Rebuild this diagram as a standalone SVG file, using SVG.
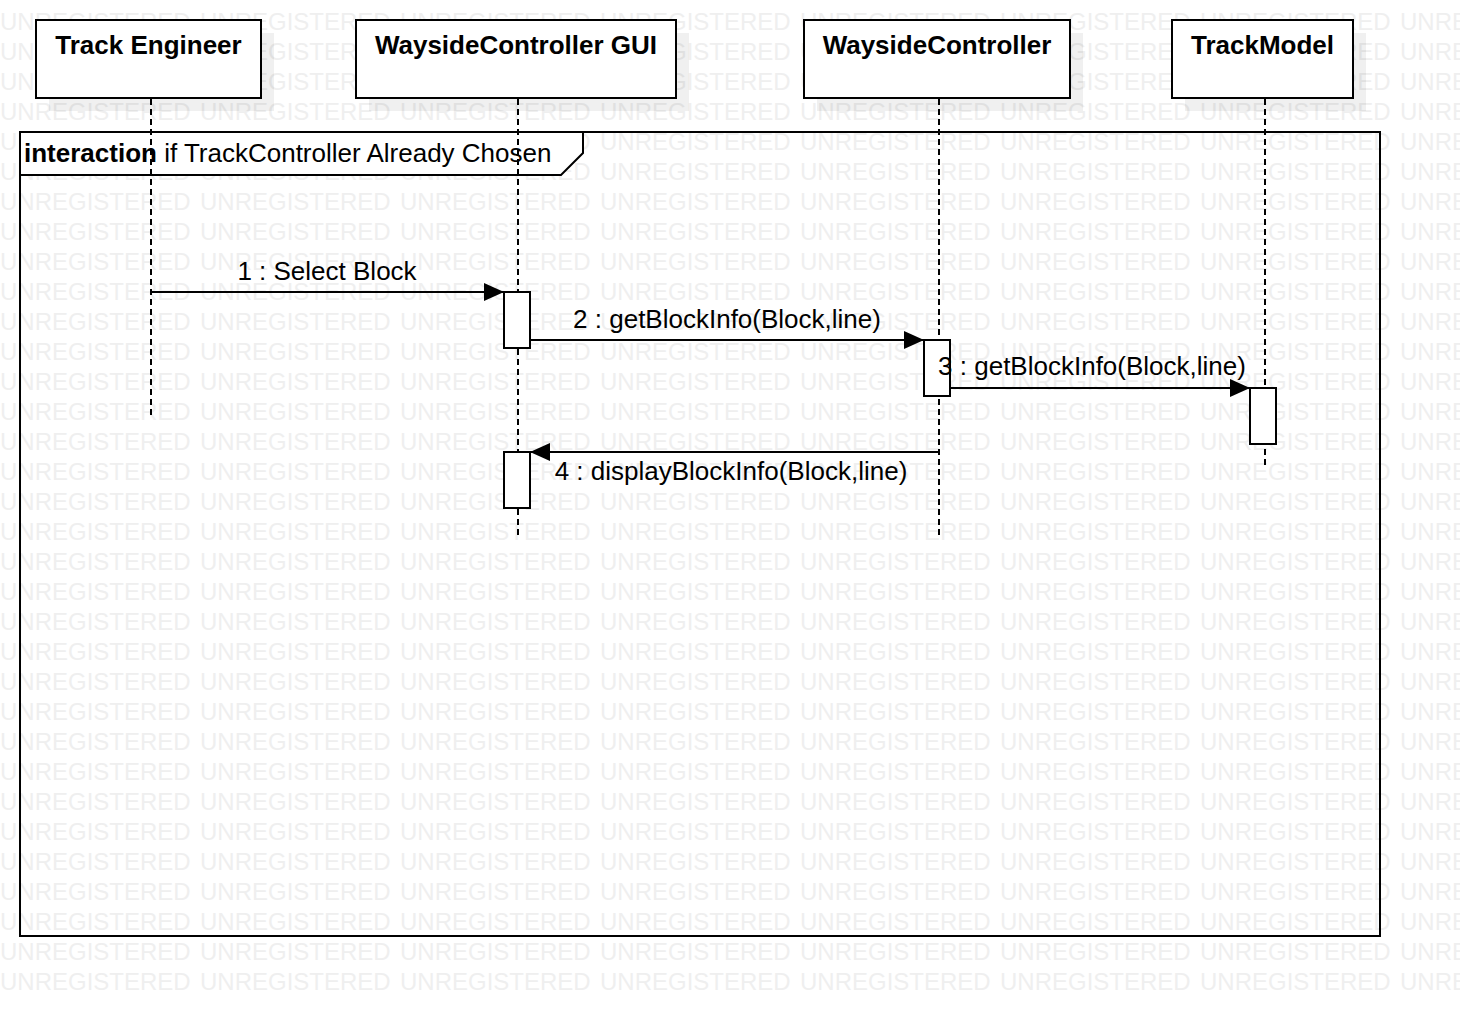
<svg xmlns="http://www.w3.org/2000/svg" xmlns:xlink="http://www.w3.org/1999/xlink" width="1460" height="1016" viewBox="0 0 1460 1016">
<style>
.wm{font-family:"Liberation Sans",Arial,sans-serif;font-size:24px;fill:#efefef}
.box{fill:#ffffff;stroke:#000;stroke-width:2}
.shadow{fill:#000;fill-opacity:0.06}
.title{font-family:"Liberation Sans",Arial,sans-serif;font-size:26px;font-weight:bold;fill:#000;text-anchor:middle}
.lbl{font-family:"Liberation Sans",Arial,sans-serif;font-size:26px;fill:#000}
.life{fill:none;stroke:#000;stroke-width:2;stroke-dasharray:6,4}
.msg{fill:none;stroke:#000;stroke-width:2}
.act{fill:#ffffff;stroke:#000;stroke-width:2}
</style>
<defs>
<marker id="arrow" viewBox="0 0 20 18" refX="20" refY="9" markerWidth="20" markerHeight="18" markerUnits="userSpaceOnUse" orient="auto">
<path d="M0,0 L20,9 L0,18 z" fill="#000"/>
</marker>
<g id="wmrow">
<text class="wm" x="0" y="0">UNREGISTERED</text>
<text class="wm" x="200" y="0">UNREGISTERED</text>
<text class="wm" x="400" y="0">UNREGISTERED</text>
<text class="wm" x="600" y="0">UNREGISTERED</text>
<text class="wm" x="800" y="0">UNREGISTERED</text>
<text class="wm" x="1000" y="0">UNREGISTERED</text>
<text class="wm" x="1200" y="0">UNREGISTERED</text>
<text class="wm" x="1400" y="0">UNREGISTERED</text>
</g>
</defs>
<rect x="0" y="0" width="1460" height="1016" fill="#ffffff"/>
<g id="watermark">
<use xlink:href="#wmrow" y="30"/><use xlink:href="#wmrow" y="60"/><use xlink:href="#wmrow" y="90"/>
<use xlink:href="#wmrow" y="120"/><use xlink:href="#wmrow" y="150"/><use xlink:href="#wmrow" y="180"/>
<use xlink:href="#wmrow" y="210"/><use xlink:href="#wmrow" y="240"/><use xlink:href="#wmrow" y="270"/>
<use xlink:href="#wmrow" y="300"/><use xlink:href="#wmrow" y="330"/><use xlink:href="#wmrow" y="360"/>
<use xlink:href="#wmrow" y="390"/><use xlink:href="#wmrow" y="420"/><use xlink:href="#wmrow" y="450"/>
<use xlink:href="#wmrow" y="480"/><use xlink:href="#wmrow" y="510"/><use xlink:href="#wmrow" y="540"/>
<use xlink:href="#wmrow" y="570"/><use xlink:href="#wmrow" y="600"/><use xlink:href="#wmrow" y="630"/>
<use xlink:href="#wmrow" y="660"/><use xlink:href="#wmrow" y="690"/><use xlink:href="#wmrow" y="720"/>
<use xlink:href="#wmrow" y="750"/><use xlink:href="#wmrow" y="780"/><use xlink:href="#wmrow" y="810"/>
<use xlink:href="#wmrow" y="840"/><use xlink:href="#wmrow" y="870"/><use xlink:href="#wmrow" y="900"/>
<use xlink:href="#wmrow" y="930"/><use xlink:href="#wmrow" y="960"/><use xlink:href="#wmrow" y="990"/>
</g>
<g id="frame">
<rect x="20" y="132" width="1360" height="804" fill="none" stroke="#000" stroke-width="2"/>
<path d="M20,132 L583,132 L583,153 L561,175 L20,175 z" fill="#ffffff" stroke="#000" stroke-width="2"/>
<text class="lbl" x="24" y="162"><tspan font-weight="bold">interaction</tspan> if TrackController Already Chosen</text>
</g>
<g id="node-track-engineer">
<rect class="shadow" x="49" y="33" width="225" height="78"/>
<rect class="box" x="36" y="20" width="225" height="78"/>
<text class="title" x="148.5" y="54">Track Engineer</text>
</g>
<g id="node-wayside-gui">
<rect class="shadow" x="369" y="33" width="320" height="78"/>
<rect class="box" x="356" y="20" width="320" height="78"/>
<text class="title" x="516" y="54">WaysideController GUI</text>
</g>
<g id="node-wayside-controller">
<rect class="shadow" x="817" y="33" width="266" height="78"/>
<rect class="box" x="804" y="20" width="266" height="78"/>
<text class="title" x="937" y="54">WaysideController</text>
</g>
<g id="node-track-model">
<rect class="shadow" x="1185" y="33" width="181" height="78"/>
<rect class="box" x="1172" y="20" width="181" height="78"/>
<text class="title" x="1262.5" y="54">TrackModel</text>
</g>
<g id="lifelines">
<line class="life" x1="151" y1="99" x2="151" y2="418"/>
<line class="life" x1="518" y1="99" x2="518" y2="536"/>
<line class="life" x1="939" y1="99" x2="939" y2="536"/>
<line class="life" x1="1265" y1="99" x2="1265" y2="466"/>
</g>
<g id="activations">
<rect class="act" x="504" y="292" width="26" height="56"/>
<rect class="act" x="924" y="340" width="26" height="56"/>
<rect class="act" x="1250" y="388" width="26" height="56"/>
<rect class="act" x="504" y="452" width="26" height="56"/>
</g>
<g id="connectors">
<line class="msg" x1="151" y1="292" x2="504" y2="292" marker-end="url(#arrow)"/>
<line class="msg" x1="530" y1="340" x2="924" y2="340" marker-end="url(#arrow)"/>
<line class="msg" x1="950" y1="388" x2="1250" y2="388" marker-end="url(#arrow)"/>
<line class="msg" x1="939" y1="452" x2="530" y2="452" marker-end="url(#arrow)"/>
<text class="lbl" x="327" y="280" text-anchor="middle">1 : Select Block</text>
<text class="lbl" x="727" y="328" text-anchor="middle">2 : getBlockInfo(Block,line)</text>
<text class="lbl" x="1092" y="375" text-anchor="middle">3 : getBlockInfo(Block,line)</text>
<text class="lbl" x="731" y="480" text-anchor="middle">4 : displayBlockInfo(Block,line)</text>
</g>
</svg>
